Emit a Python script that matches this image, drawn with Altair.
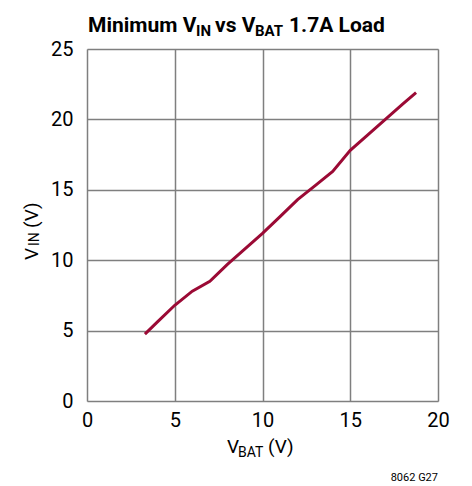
import altair as alt
import pandas as pd

FONT = "Roboto"

vbat = [3.3, 4.0, 5.0, 6.0, 7.0, 8.0, 9.0, 10.0, 11.0, 12.0, 13.0, 14.0, 15.0, 16.0, 17.0, 18.0, 18.75]
vin = [4.75, 5.6, 6.8, 7.8, 8.5, 9.7, 10.8, 11.9, 13.1, 14.3, 15.3, 16.3, 17.8, 18.9, 20.0, 21.1, 21.9]

x_ticks = [0, 5, 10, 15, 20]
y_ticks = [0, 5, 10, 15, 20, 25]

df = pd.DataFrame({"vbat": vbat, "vin": vin})

W, H = 351, 352

line = alt.Chart(df).mark_line(color="#9b0a35", strokeWidth=3).encode(
    x=alt.X("vbat:Q", scale=alt.Scale(domain=[0, 20], nice=False),
            axis=alt.Axis(values=x_ticks, title=None, grid=True, ticks=False, domain=False,
                          labelFontSize=20, labelPadding=9, labelColor="black", labelFont=FONT,
                          labelFlush=False, labelOverlap=False,
                          gridColor="#7f7f7f", gridWidth=1.5)),
    y=alt.Y("vin:Q", scale=alt.Scale(domain=[0, 25], nice=False),
            axis=alt.Axis(values=y_ticks, title=None, grid=True, ticks=False, domain=False,
                          labelFontSize=20, labelPadding=14, labelColor="black", labelFont=FONT,
                          labelFlush=False, labelOverlap=False,
                          gridColor="#7f7f7f", gridWidth=1.5)),
)

def txt(s, x, y, size, bold=False, angle=0, align="left"):
    kw = dict(text=s, fontSize=size, font=FONT, color="black", align=align, baseline="alphabetic")
    if bold:
        kw["fontWeight"] = "bold"
    if angle:
        kw["angle"] = angle
    return alt.Chart(df.head(1)).mark_text(**kw).encode(x=alt.value(x), y=alt.value(y))

title_layers = [
    txt("Minimum V", 1, -17, 21, bold=True),
    txt("IN", 109, -13, 15, bold=True),
    txt("vs V", 128, -17, 21, bold=True),
    txt("BAT", 168, -13, 15, bold=True),
    txt("1.7A Load", 202, -17, 21, bold=True),
]

ytitle = [
    txt("V", -49, 211, 19, angle=270),
    txt("IN", -48, 197, 14, angle=270),
    txt("(V)", -49, 179, 19, angle=270),
]

xtitle = [
    txt("V", 140, 404, 19),
    txt("BAT", 151, 408, 14),
    txt("(V)", 181, 404, 19),
]

foot = [txt("8062 G27", 351, 432, 11, align="right")]

chart = alt.layer(line, *title_layers, *ytitle, *xtitle, *foot).properties(
    width=W, height=H,
    autosize=alt.AutoSizeParams(type="none"),
    padding={"left": 79, "top": 41, "right": 20, "bottom": 82},
).configure_view(stroke="black", strokeWidth=1.5).configure(background="white")

chart.save("out.html", embed_options={"renderer": "svg", "actions": False})
